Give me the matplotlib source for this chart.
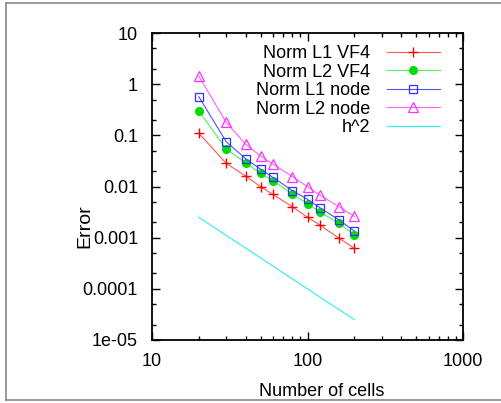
import matplotlib
matplotlib.use("Agg")
import matplotlib.pyplot as plt
from matplotlib.ticker import LogLocator, NullFormatter, FixedLocator, FixedFormatter
from matplotlib.lines import Line2D

plt.rcParams['font.family'] = ['Liberation Sans', 'DejaVu Sans']

cells = [20, 30, 40, 50, 60, 80, 100, 120, 160, 200]
l1_vf4 = [0.11, 0.0284, 0.016, 0.0099, 0.0070, 0.0040, 0.0025, 0.00177, 0.00097, 0.00062]
l2_vf4 = [0.30, 0.054, 0.029, 0.018, 0.013, 0.0071, 0.0046, 0.0032, 0.0019, 0.00113]
l1_node = [0.57, 0.075, 0.035, 0.0217, 0.015, 0.0083, 0.0056, 0.00386, 0.0022, 0.00135]
l2_node = [1.44, 0.18, 0.067, 0.039, 0.0275, 0.0156, 0.0099, 0.0068, 0.0040, 0.0026]
h2 = [0.0025, 0.00111, 0.000625, 0.0004, 0.000278, 0.000156, 0.0001, 6.94e-5, 3.91e-5, 2.5e-5]

xticks = [10, 100, 1000]
xtick_labels = ['10', '100', '1000']
yticks = [1e-5, 1e-4, 1e-3, 1e-2, 1e-1, 1, 10]
ytick_labels = ['1e-05', '0.0001', '0.001', '0.01', '0.1', '1', '10']

fs = 13

fig = plt.figure(figsize=(5.02, 4.03), dpi=100)
ax = fig.add_axes([152/502, 63/403, 311/502, 307/403])

ax.plot(cells, l1_vf4, color='#ff5555', lw=0.8, marker='+', ms=7.5, mew=1.0, mec='#ff0000',
        label='Norm L1 VF4')
ax.plot(cells, l2_vf4, color='#55ee55', lw=0.8, marker='o', ms=5.5, mec='#00dd00', mfc='#00dd00',
        label='Norm L2 VF4')
ax.plot(cells, l1_node, color='#5050ff', lw=0.8, marker='s', ms=6.3, mfc='none', mew=0.9, mec='#3030ff',
        label='Norm L1 node')
ax.plot(cells, l2_node, color='#ff60ff', lw=0.8, marker='^', ms=7, mfc='none', mew=0.9, mec='#ff30ff',
        label='Norm L2 node')
ax.plot(cells, h2, color='#40eeee', lw=0.9, label='h^2')

ax.set_xscale('log')
ax.set_yscale('log')
ax.set_xlim(10, 1000)
ax.set_ylim(1e-5, 10)

ax.xaxis.set_major_locator(FixedLocator(xticks))
ax.xaxis.set_major_formatter(FixedFormatter(xtick_labels))
ax.xaxis.set_minor_locator(LogLocator(base=10, subs=range(2, 10)))
ax.xaxis.set_minor_formatter(NullFormatter())
ax.yaxis.set_major_locator(FixedLocator(yticks))
ax.yaxis.set_major_formatter(FixedFormatter(ytick_labels))
ax.yaxis.set_minor_locator(LogLocator(base=10, subs=[2, 5]))
ax.yaxis.set_minor_formatter(NullFormatter())

ax.tick_params(which='both', direction='in', top=True, right=True, width=1.0, color='black')
ax.tick_params(which='major', length=6)
ax.tick_params(which='minor', length=3)
ax.tick_params(axis='y', which='major', pad=10, labelsize=fs)
ax.tick_params(axis='x', which='major', pad=9, labelsize=fs)
for s in ax.spines.values():
    s.set_linewidth(1.3)

ax.set_xlabel('Number of cells', fontsize=fs)
ax.set_ylabel('Error', fontsize=14)
ax.xaxis.set_label_coords(0.545, -0.14)
ax.yaxis.set_label_coords(-0.19, 0.37)

ax.legend(loc='upper right', bbox_to_anchor=(0.926, 0.96), frameon=False, fontsize=fs,
          markerfirst=False, handlelength=2.95, handletextpad=0.9, labelspacing=0.08,
          borderpad=0, borderaxespad=0)

# grey frame around the picture
frame = dict(color='#888888', lw=1.2, transform=fig.transFigure)
fig.add_artist(Line2D([6/502, 6/502], [3/403, 400/403], **frame))
fig.add_artist(Line2D([6/502, 1.0], [400/403, 400/403], **frame))
fig.add_artist(Line2D([6/502, 1.0], [3/403, 3/403], **frame))

fig.savefig('out.png', dpi=100)
